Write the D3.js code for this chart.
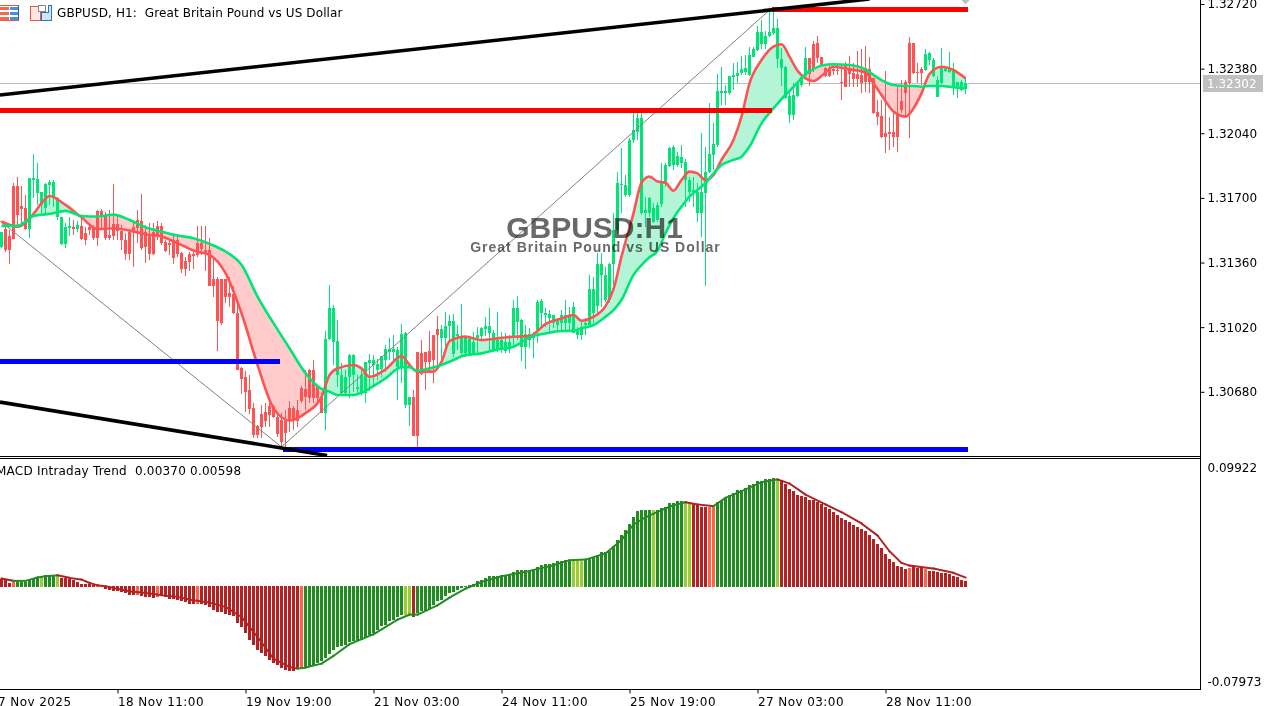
<!DOCTYPE html>
<html><head><meta charset="utf-8"><style>
html,body{margin:0;padding:0;background:#fff;overflow:hidden}
svg{display:block}
text{font-family:"DejaVu Sans",sans-serif;font-size:12px;fill:#000}
.domain{display:none}
</style>
<script src="https://cdn.jsdelivr.net/npm/d3@7/dist/d3.min.js"></script>
</head><body><svg id="c" width="1276" height="706"></svg>
<script>
// prices are held as points above 1.30000 (1 point = 0.00001)
const highs=[1523,1558,1532,1777,1812,1763,1716,1807,1931,1882,
1733,1777,1795,1795,1707,1602,1567,1598,1584,1576,
1602,1546,1567,1558,1637,1640,1628,1637,1774,1611,
1558,1514,1532,1576,1637,1721,1558,1567,1567,1576,
1567,1479,1479,1514,1497,1418,1391,1418,1418,1553,
1553,1553,1488,1391,1283,1272,1272,1283,1234,1137,
813,787,769,620,506,611,620,620,611,559,
568,585,629,603,638,708,795,799,848,717,
672,1001,1241,1136,1057,830,795,877,877,768,
812,838,877,873,851,868,926,961,979,917,
1036,996,654,689,891,952,891,1001,979,1078,
1031,1101,1084,1089,1031,1142,966,970,996,1022,
1022,1075,1119,1005,1101,996,987,979,1163,1184,
1061,1031,1014,996,1163,1166,1119,1110,1084,1061,
1110,1163,1128,1154,1022,1049,1066,1294,1285,1409,
1409,1339,1356,1619,1838,1961,1821,2013,2145,2145,
2145,1707,1707,1672,1680,1882,1882,1970,1978,1943,
1978,1903,1812,1812,1777,2040,1970,2198,2092,2352,
2390,2294,2341,2408,2417,2446,2452,2496,2496,2604,
2636,2580,2688,2688,2639,2487,2396,2268,2303,2306,
2347,2496,2434,2527,2552,2443,2390,2394,2394,2399,
2399,2417,2446,2408,2475,2482,2499,2443,2329,2215,
2215,2369,2127,2145,2294,2320,2320,2545,2513,2408,
2390,2482,2469,2434,2341,2487,2390,2469,2408,2312,
2320,2338];
const lows=[1435,1418,1353,1484,1549,1567,1532,1491,1698,1663,
1611,1611,1663,1654,1584,1453,1439,1497,1505,1518,
1479,1453,1505,1479,1448,1532,1479,1479,1479,1479,
1427,1374,1374,1334,1462,1427,1356,1374,1400,1479,
1453,1418,1400,1353,1391,1304,1290,1318,1325,1391,
1400,1318,1234,1178,892,1032,1146,1128,1090,795,
669,576,564,436,436,436,497,497,541,441,
389,392,471,480,497,620,585,620,620,620,
567,479,952,821,703,672,663,646,681,672,
663,619,686,710,742,759,786,847,847,637,
724,593,500,447,391,768,689,777,728,803,
847,891,952,865,900,873,865,873,882,882,
952,973,891,891,891,882,882,886,914,952,
844,798,908,856,935,1022,1022,996,1014,996,
996,996,1005,991,956,952,979,1031,1040,1084,
1128,1155,1146,1216,1514,1619,1707,1707,1987,2005,
1610,1549,1602,1567,1575,1654,1759,1864,1847,1864,
1856,1654,1680,1654,1575,1496,1237,1829,1847,1970,
2189,2189,2241,2268,2303,2347,2347,2341,2439,2475,
2482,2482,2548,2557,2382,2289,2219,2096,2110,2229,
2282,2334,2289,2364,2408,2390,2338,2334,2347,2347,
2215,2282,2282,2282,2282,2254,2259,2254,2141,2084,
2014,1935,1952,1970,1943,2145,2124,2014,2352,2303,
2294,2369,2399,2334,2229,2299,2362,2359,2241,2224,
2264,2247];
const opens=[1444,1535,1497,1763,1765,1658,1646,1537,1795,1728,
1663,1646,1768,1707,1598,1458,1458,1540,1546,1535,
1553,1514,1546,1540,1633,1633,1611,1505,1563,1563,
1528,1479,1523,1546,1584,1576,1518,1505,1518,1553,
1553,1470,1465,1479,1479,1409,1370,1405,1405,1465,
1462,1427,1427,1272,1272,1272,1272,1199,1195,1097,
804,757,687,594,501,564,576,606,606,550,
532,529,594,594,585,699,694,795,795,708,
654,570,956,943,768,675,672,756,768,693,
681,675,833,821,795,798,847,891,891,812,
812,610,610,651,891,882,891,896,979,1008,
961,961,1026,879,973,882,882,882,886,961,
973,1008,987,900,900,900,896,908,961,1049,
917,917,952,961,1005,1092,1084,1066,1040,1031,
1043,1040,1040,991,979,979,1031,1031,1092,1131,
1295,1163,1163,1353,1531,1768,1716,1716,2005,2049,
1619,1619,1619,1575,1584,1668,1786,1868,1873,1873,
1882,1794,1733,1733,1619,1619,1724,1838,1926,1978,
2254,2254,2254,2338,2341,2355,2364,2347,2443,2478,
2510,2510,2552,2566,2429,2382,2224,2136,2136,2236,
2294,2341,2434,2510,2513,2443,2382,2382,2376,2373,
2310,2399,2373,2359,2352,2347,2382,2376,2329,2154,
2131,2040,2047,2047,2145,2210,2312,2513,2513,2364,
2378,2373,2425,2341,2233,2306,2369,2364,2282,2276,
2268,2271];
const closes=[1518,1427,1427,1484,1611,1644,1537,1807,1807,1798,
1730,1774,1786,1786,1698,1598,1546,1553,1539,1558,
1483,1479,1532,1488,1488,1609,1488,1488,1500,1528,
1479,1405,1405,1523,1540,1435,1441,1405,1405,1497,
1462,1423,1453,1383,1405,1325,1325,1365,1395,1400,
1430,1409,1237,1237,1050,1044,1178,1178,1093,795,
746,681,589,454,454,497,529,559,546,459,
418,462,524,532,529,629,652,646,646,646,
570,956,1119,1119,947,768,759,873,873,707,
768,837,847,847,826,868,903,903,903,900,
984,987,651,447,447,773,838,838,847,979,
1008,1026,1054,1052,984,966,963,956,944,979,
1014,1026,1026,991,952,952,944,944,1119,1119,
1057,984,984,979,1154,1159,1092,1089,1084,1057,
1084,1084,1084,1124,1001,1022,1043,1219,1219,1353,
1353,1295,1353,1531,1777,1773,1768,2005,2057,2119,
2119,1637,1698,1645,1663,1780,1873,1961,1970,1921,
1917,1887,1794,1742,1733,1733,1838,1931,1984,2264,
2264,2264,2341,2347,2355,2376,2382,2452,2482,2574,
2574,2552,2574,2592,2592,2429,2390,2238,2241,2299,
2334,2434,2352,2382,2434,2396,2341,2341,2369,2369,
2306,2285,2352,2324,2324,2306,2312,2312,2145,2127,
2022,2022,2036,2019,2019,2162,2250,2303,2359,2359,
2359,2457,2464,2425,2320,2382,2382,2376,2369,2312,
2312,2303];

// moving averages, read at these bars
const maBars=[0,4,8,10,12,16,20,24,28,32,36,40,44,48,52,56,60,64,68,72,76,80,82,84,88,90,92,96,100,102,104,108,110,112,116,120,124,128,132,136,140,143,145,148,151,153,155,158,160,162,164,166,168,170,172,174,176,178,180,183,185,187,190,193,195,197,199,201,203,205,208,212,216,218,220,223,226,228,230,232,235,238,241];
const fastMA=[1576,1549,1616,1672,1710,1663,1598,1535,1540,1528,1509,1497,1462,1423,1400,1304,1093,822,594,529,568,654,768,803,821,803,759,798,868,821,786,786,838,947,970,952,961,970,973,1036,1066,1084,1054,1075,1131,1220,1391,1619,1780,1812,1786,1780,1738,1794,1838,1829,1794,1821,1900,2005,2127,2303,2425,2496,2508,2443,2369,2329,2315,2341,2390,2376,2361,2303,2241,2154,2127,2171,2250,2352,2390,2373,2329];
const slowMA=[1553,1553,1605,1611,1616,1632,1605,1602,1612,1584,1546,1523,1502,1488,1458,1418,1348,1181,1041,909,778,695,681,663,663,675,698,751,809,809,791,809,821,838,873,882,903,917,966,987,1000,1001,1014,1031,1075,1110,1163,1295,1347,1388,1421,1514,1593,1654,1707,1742,1777,1829,1873,1900,1917,1970,2092,2171,2220,2262,2306,2352,2378,2396,2403,2399,2376,2347,2320,2294,2289,2289,2285,2289,2289,2282,2276];

const tickPrices=[1.3272,1.3238,1.3204,1.3170,1.3136,1.3102,1.3068];
const lastPrice=1.32302;
const timeTickBars=[-3,29,61,93,125,157,189,221];
const timeLabels=["17 Nov 2025","18 Nov 11:00","19 Nov 19:00","21 Nov 03:00","24 Nov 11:00","25 Nov 19:00","27 Nov 03:00","28 Nov 11:00"];

// objects drawn on the chart: [bar, points]
const zigzag=[[-0.375,1579],[70,390],[192,2688]];
const trendUp=[[-0.375,2241],[217,2746]];
const trendDown=[[-0.375,626],[81.4,345]];
const redLines=[[[-0.375,2160],[192.6,2160]],[[192.6,2691],[241.6,2691]]];
const blueLines=[[[-0.375,839],[69.6,839]],[[70.4,377],[241.6,377]]];

// MACD histogram, thousandths
const macdHist=[6.4,5.6,2.8,3.6,4.5,3.6,3.6,5.6,7.3,7.8,
7.8,9.2,9.8,9.8,9.2,7.3,7.3,6.4,5.6,3.6,
2.2,1.7,1.7,1.1,0.6,0.3,-1.1,-2,-2.8,-3.3,
-3.9,-5,-6.1,-6.1,-6.1,-7.5,-8.4,-8.4,-8.9,-8.4,
-7.5,-8.4,-9.5,-9.8,-10.3,-11.2,-12.3,-14,-14,-14,
-14,-15.1,-16.7,-18.7,-20.6,-20.6,-22.3,-22.9,-24.3,-29.9,
-33.5,-38.2,-43.8,-48,-52.7,-55,-57.8,-60.5,-63.3,-65.3,
-67.5,-68.9,-69.8,-69.8,-68.1,-68.1,-67.5,-66.1,-65.3,-63.3,
-61.4,-59.1,-55.8,-52.2,-50.2,-49.4,-48,-46,-45.2,-44.6,
-43.8,-42.4,-39.6,-38.2,-35.4,-32.6,-31.2,-28.5,-27.1,-25.1,
-22.9,-23.4,-23.4,-24.8,-21.5,-20.1,-19.5,-17.9,-15.1,-11.7,
-10.3,-7.5,-4.7,-3.9,-2,-0.6,0.6,1.4,2.2,4.5,
5.6,7.3,8.4,8.4,8.4,9.2,9.8,9.8,12,13.4,
13.4,14,14,14.8,16.2,17.6,19,19,19.5,20.9,
20.9,21.8,21.8,21.2,21.2,21.2,22.3,23.2,24,25.9,
28.5,28.5,29.6,33.5,38.5,42.7,46.9,51.9,57.5,63.1,
63.6,63.6,63.6,63.6,63.6,65.6,66.1,69.2,69.8,71.4,
71.4,71.4,70.3,69.8,67.8,66.1,66.1,66.4,66.4,70.3,
71.4,73.9,76.7,78.1,80.1,80.9,82.3,84.3,85.9,87.6,
87.9,89.3,89.8,90.7,89.3,88.7,85.1,81.5,79.5,76.7,
75.3,74.5,72,72,70.3,68.9,66.1,64.2,61.9,60,
57.2,55.8,53.6,51.6,49.4,48,46,42.7,39.1,35.7,
32.1,27.3,23.2,20.1,17.3,16.2,14.8,15.6,16.2,15.3,
15.1,14.5,13.1,12.6,11.7,11.2,10.9,10.3,8.4,7.8,
5.6,4.7];
const yellowBars=[10,14,101,102,143,144,145,163,171,172,194];
const tomatoBars=[3,24,25,34,39,49,75,177,178,227,231];
const fallingRanges=[[0,2],[15,75],[103,103],[173,176],[195,241]];
const signalBars=[0,3,6,9,11,14,17,20,22,24,26,28,32,36,40,44,48,52,56,60,64,68,72,74,76,80,83,87,93,99,102,104,109,112,116,120,125,131,138,142,146,151,155,158,160,164,168,171,174,178,181,186,190,194,197,201,206,210,215,219,222,225,227,233,238,241];
const signalVals=[6.4,4.5,4.5,7.3,8.4,9.2,7,5.6,2.8,0.8,0,-1.4,-4.2,-5.6,-7.5,-8.9,-11.7,-13.7,-17.3,-25.7,-42.4,-60.5,-67.5,-68.9,-68,-64.7,-58.3,-48.5,-40.2,-27.9,-23.7,-23.7,-15.9,-9.5,-2,3.6,8.4,12,17.6,21.8,22.3,27.3,38.5,51.6,55.8,62.2,67.8,70.3,68.4,67,73.9,80.9,87,89.3,85.9,76.7,68.4,61.9,52.5,42.4,29.3,19.5,17.3,14.8,11.2,7.3];
const macdTicks=[99.22,-79.73];

const BULL="#00E676",BEAR="#FF5252";
const svg=d3.select("#c");
const n=closes.length;
const x=d3.scaleLinear().domain([0,241]).range([1.5,965.5]);
const yP=d3.scaleLinear().domain([1.3272,1.3068]).range([4,391.8]);
const y=p=>yP(1.3+p/1e5);
const yM=d3.scaleLinear().domain([99.22,-79.73]).range([467.6,681.6]);
const W=1200,mainBottom=456;

const defs=svg.append("defs");
defs.append("clipPath").attr("id","main").append("rect").attr("width",W).attr("height",mainBottom);
const ma=maBars.map((b,i)=>({b,f:fastMA[i],s:slowMA[i]}));
const curve=d3.curveMonotoneX;
const band=d3.area().curve(curve).x(d=>x(d.b)).y0(d=>y(d.s)).y1(d=>y(d.f));
defs.append("clipPath").attr("id","aboveSlow").append("path").attr("d",d3.area().curve(curve).x(d=>x(d.b)).y0(-10).y1(d=>y(d.s))(ma));
defs.append("clipPath").attr("id","belowSlow").append("path").attr("d",d3.area().curve(curve).x(d=>x(d.b)).y0(mainBottom+10).y1(d=>y(d.s))(ma));

const main=svg.append("g").attr("clip-path","url(#main)");
main.append("line").attr("x1",0).attr("x2",W).attr("y1",83.5).attr("y2",83.5).attr("stroke","#c0c0c0");
main.append("path").attr("d",band(ma)).attr("fill","#b3f5d6").attr("clip-path","url(#aboveSlow)");
main.append("path").attr("d",band(ma)).attr("fill","#ffcbcb").attr("clip-path","url(#belowSlow)");

const bars=d3.range(n);
const col=i=>closes[i]>=opens[i]?BULL:BEAR;
main.append("g").attr("shape-rendering","crispEdges").selectAll("rect").data(bars).join("rect")
 .attr("x",i=>x(i)-0.5).attr("width",1).attr("y",i=>y(highs[i])).attr("height",i=>y(lows[i])-y(highs[i])).attr("fill",col);
main.append("g").attr("shape-rendering","crispEdges").selectAll("rect").data(bars).join("rect")
 .attr("x",i=>x(i)-1.5).attr("width",3)
 .attr("y",i=>y(Math.max(opens[i],closes[i])))
 .attr("height",i=>Math.max(1,Math.abs(y(opens[i])-y(closes[i])))).attr("fill",col);

const ln=d3.line().x(d=>x(d[0])).y(d=>y(d[1]));
main.append("path").attr("d",ln(zigzag)).attr("fill","none").attr("stroke","#808080").attr("stroke-width",1);
main.append("path").attr("d",d3.line().curve(curve).x(d=>x(d.b)).y(d=>y(d.f))(ma)).attr("fill","none").attr("stroke",BEAR).attr("stroke-width",2.6);
main.append("path").attr("d",d3.line().curve(curve).x(d=>x(d.b)).y(d=>y(d.s))(ma)).attr("fill","none").attr("stroke",BULL).attr("stroke-width",2.6);
redLines.forEach(l=>main.append("path").attr("d",ln(l)).attr("stroke","#ff0000").attr("stroke-width",5).attr("shape-rendering","crispEdges"));
blueLines.forEach(l=>main.append("path").attr("d",ln(l)).attr("stroke","#0000ff").attr("stroke-width",5).attr("shape-rendering","crispEdges"));
[trendUp,trendDown].forEach(l=>main.append("path").attr("d",ln(l)).attr("stroke","#000").attr("stroke-width",3.6));
// last-price marker
main.append("path").attr("d",d3.line()([[x(241)-4,0],[x(241)+4,0],[x(241),4.5]])).attr("fill","#c0c0c0");

// pane frames
[456.5,458.5].forEach(v=>svg.append("line").attr("x1",0).attr("x2",W).attr("y1",v).attr("y2",v).attr("stroke","#000"));
svg.append("line").attr("x1",0).attr("x2",W).attr("y1",689.5).attr("y2",689.5).attr("stroke","#000");
svg.append("line").attr("x1",W+.5).attr("x2",W+.5).attr("y1",0).attr("y2",690).attr("stroke","#000");

// MACD
const colour=i=>{
 if(yellowBars.includes(i))return "#9ACD32";
 if(tomatoBars.includes(i))return "#FF6347";
 return fallingRanges.some(r=>i>=r[0]&&i<=r[1])?"#B22222":"#228B22";
};
svg.append("g").attr("shape-rendering","crispEdges").selectAll("rect").data(bars).join("rect")
 .attr("x",i=>x(i)-1.5).attr("width",3)
 .attr("y",i=>Math.min(yM(macdHist[i]),586))
 .attr("height",i=>Math.abs(yM(macdHist[i])-586)+1)
 .attr("fill",colour);
const sig=signalBars.map((b,i)=>[b,signalVals[i]]);
const sl=d3.line().x(d=>x(d[0])).y(d=>yM(d[1]));
d3.pairs(sig).forEach(([a,b])=>svg.append("path").attr("d",sl([a,b])).attr("fill","none")
  .attr("stroke",b[1]>=a[1]?"#228B22":"#B22222").attr("stroke-width",2).attr("stroke-linecap","square"));

// axes
const priceAxis=d3.axisRight(yP).tickValues(tickPrices).tickFormat(d3.format(".5f")).tickSize(4).tickPadding(3);
svg.append("g").attr("transform","translate(1200.5,0)").call(priceAxis);
const macdAxis=d3.axisRight(yM).tickValues(macdTicks).tickFormat(d=>d3.format(".5f")(d/1000).replace("\u2212","-")).tickSize(0).tickPadding(7);
svg.append("g").attr("transform","translate(1200.5,0)").call(macdAxis);
const timeAxis=d3.axisBottom(x).tickValues(timeTickBars).tickFormat((d,i)=>timeLabels[i]).tickSize(4).tickPadding(4);
const tg=svg.append("g").attr("transform","translate(0,689.5)").call(timeAxis);
tg.selectAll("text").attr("text-anchor","start").attr("dx","0").style("letter-spacing","0.42px");
svg.selectAll(".tick line").attr("stroke","#000");
svg.selectAll(".tick text").attr("fill","#000").style("font-family",'"DejaVu Sans"').style("font-size","12px");

// last price tag
svg.append("rect").attr("x",1203).attr("y",75).attr("width",60).attr("height",17).attr("fill","#c0c0c0");
svg.append("text").attr("x",1207).attr("y",88).style("fill","#fff").text(d3.format(".5f")(lastPrice));

// header
svg.append("text").attr("x",57).attr("y",17).text("GBPUSD, H1:  Great Britain Pound vs US Dollar").attr("xml:space","preserve").style("letter-spacing","0.11px");
svg.append("text").attr("x",-4).attr("y",475).text("MACD Intraday Trend  0.00370 0.00598").attr("xml:space","preserve").style("letter-spacing","0.22px");

// header icons
const ic=svg.append("g").attr("shape-rendering","crispEdges");
[7,12,17].forEach(v=>{
 ic.append("rect").attr("x",0).attr("y",v).attr("width",9).attr("height",3).attr("fill","#ef6a50");
 ic.append("rect").attr("x",10).attr("y",v).attr("width",8).attr("height",3).attr("fill","#4a8fdc");
});
ic.append("rect").attr("x",0).attr("y",5).attr("width",19).attr("height",1).attr("fill","#e8583f");
ic.append("rect").attr("x",18).attr("y",5).attr("width",1).attr("height",16).attr("fill","#2a5fa8");
ic.append("rect").attr("x",0).attr("y",20).attr("width",19).attr("height",1).attr("fill","#e8583f");
ic.append("path").attr("d","M30.5 6.5h10v14h-10z").attr("fill","#fde8e4").attr("stroke","#e8583f");
ic.append("path").attr("d","M48.5 5.5h3v15h-10v-8h7z").attr("fill","#cfe6fa").attr("stroke","#2a75c0");
ic.append("rect").attr("x",38.5).attr("y",5.5).attr("width",7).attr("height",6).attr("fill","#fff").attr("stroke","#888");

// watermark
svg.append("text").attr("x",594.5).attr("y",238).attr("text-anchor","middle")
 .style("font-family",'"Liberation Sans"').style("font-weight","bold").style("font-size","30px").style("fill","#696969").style("mix-blend-mode","multiply").text("GBPUSD:H1");
svg.append("text").attr("x",595.5).attr("y",252).attr("text-anchor","middle")
 .style("font-family",'"Liberation Sans"').style("font-weight","bold").style("font-size","14px").style("letter-spacing","1px").style("fill","#696969").style("mix-blend-mode","multiply").text("Great Britain Pound vs US Dollar");
</script></body></html>
